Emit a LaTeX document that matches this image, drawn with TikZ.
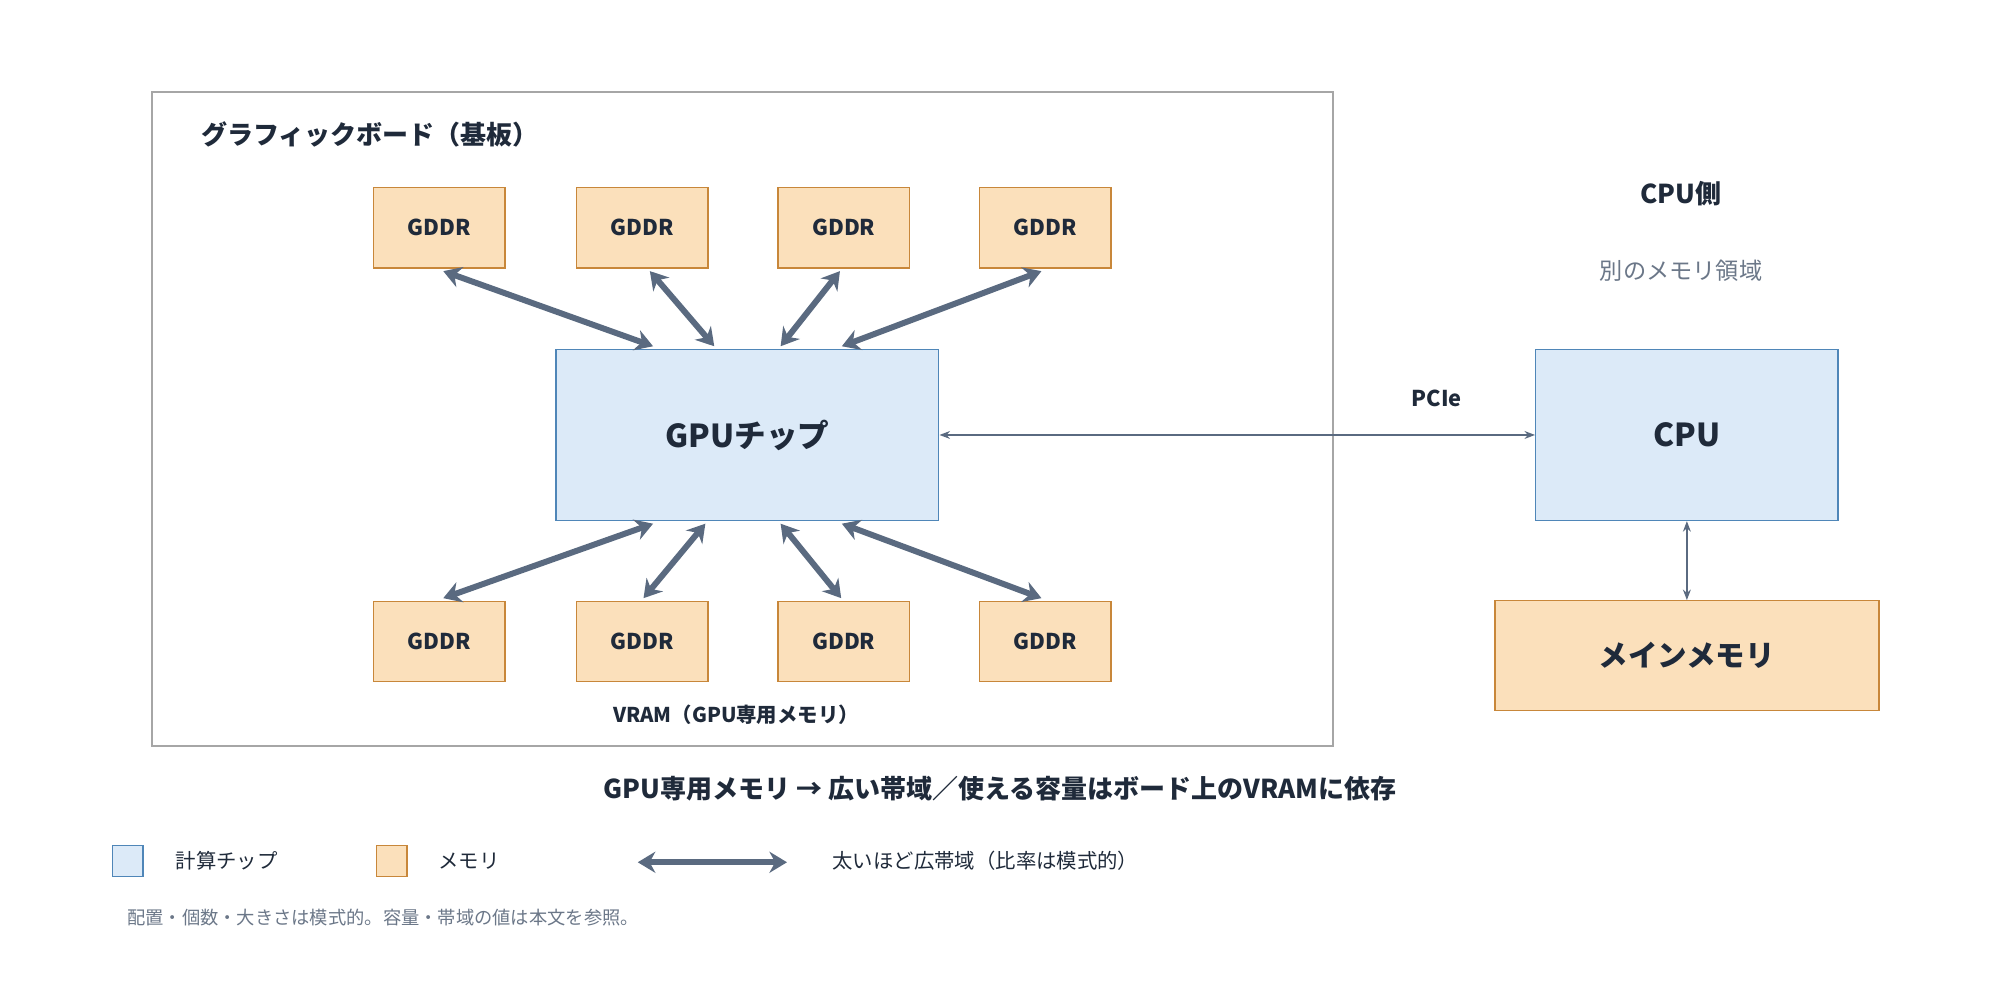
\documentclass[tikz,border=0pt]{standalone}
\usepackage{fontspec}
\setmainfont{Noto Sans CJK JP}
\usetikzlibrary{arrows.meta,calc}
\definecolor{chipfill}{HTML}{DCEAF8}
\definecolor{chipline}{HTML}{4F86B8}
\definecolor{memfill}{HTML}{FBE0BB}
\definecolor{memline}{HTML}{C8873A}
\definecolor{ink}{HTML}{1F2A3A}
\definecolor{muted}{HTML}{6B7788}
\definecolor{link}{HTML}{5A6A80}
\tikzset{
  chip/.style={draw=chipline, fill=chipfill, line width=0.4pt, inner sep=0pt},
  mem/.style={draw=memline, fill=memfill, line width=0.4pt, inner sep=0pt},
  bus/.style={link, line width=1.7pt, {Stealth[length=5pt,width=6pt]}-{Stealth[length=5pt,width=6pt]}},
  thin bus/.style={link, line width=0.4pt, {Stealth[length=3pt]}-{Stealth[length=3pt]}},
  lbl/.style={text=ink, font=\bfseries\fontsize{6.2}{7}\selectfont}
}
\begin{document}
\begin{tikzpicture}[x=0.012755cm, y=-0.012755cm]
\useasboundingbox (0,0) rectangle (1568,784);
\draw[draw=gray!70, line width=0.5pt] (119,72) rectangle (1045,585);
\node[anchor=west, lbl, font=\bfseries\fontsize{7.4}{8}\selectfont] (board) at (148,105) {グラフィックボード（基板）};
% GDDR chips
\foreach \i/\x in {1/293,2/452,3/610,4/768} {
  \node[mem, minimum width=103*0.012755cm, minimum height=63*0.012755cm, lbl] (t\i) at (\x+51.5,178.5) {GDDR};
  \node[mem, minimum width=103*0.012755cm, minimum height=63*0.012755cm, lbl] (b\i) at (\x+51.5,503) {GDDR};
}
\node[chip, minimum width=300*0.012755cm, minimum height=134*0.012755cm, text=ink, font=\bfseries\fontsize{9}{10}\selectfont] (gpu) at (586,341) {GPUチップ};
\node[chip, minimum width=237*0.012755cm, minimum height=134*0.012755cm, text=ink, font=\bfseries\fontsize{9}{10}\selectfont] (cpu) at (1322.5,341) {CPU};
\node[mem, minimum width=301*0.012755cm, minimum height=86*0.012755cm, text=ink, font=\bfseries\fontsize{8.4}{9}\selectfont] (ram) at (1322.5,514) {メインメモリ};
\node[lbl, font=\bfseries\fontsize{7.4}{8}\selectfont] (side) at (1318,152) {CPU側};
\node[text=muted, font=\fontsize{6.6}{7}\selectfont] (area) at (1318,212) {別のメモリ領域};
% links
\draw[bus] ($(t1.south)+(3,2)$) -- ($(gpu.north)+(-74,-2)$);
\draw[bus] ($(t2.south)+(6,2)$) -- ($(gpu.north)+(-26,-2)$);
\draw[bus] ($(t3.south)+(-3,2)$) -- ($(gpu.north)+(26,-2)$);
\draw[bus] ($(t4.south)+(-3,2)$) -- ($(gpu.north)+(74,-2)$);
\draw[bus] ($(gpu.south)+(-74,2)$) -- ($(b1.north)+(3,-2)$);
\draw[bus] ($(gpu.south)+(-33,2)$) -- ($(b2.north)+(1,-2)$);
\draw[bus] ($(gpu.south)+(26,2)$) -- ($(b3.north)+(-2,-2)$);
\draw[bus] ($(gpu.south)+(74,2)$) -- ($(b4.north)+(-3,-2)$);
\draw[thin bus] (gpu.east) -- (cpu.west) node[pos=0.835, above=12*0.012755cm, lbl] (pcie) {PCIe};
\draw[thin bus] (cpu.south) -- (ram.north);
\node[lbl, font=\bfseries\fontsize{5.8}{7}\selectfont] (vram) at (577,560) {VRAM（GPU専用メモリ）};
\node[lbl, font=\bfseries\fontsize{7.4}{8}\selectfont] (caption) at (784,618) {GPU専用メモリ → 広い帯域／使える容量はボード上のVRAMに依存};
% legend
\node[chip, minimum size=24*0.012755cm] (k1) at (100,675) {};
\node[anchor=west, text=ink, font=\fontsize{5.8}{7}\selectfont] (k1t) at (128,675) {計算チップ};
\node[mem, minimum size=24*0.012755cm] (k2) at (307,675) {};
\node[anchor=west, text=ink, font=\fontsize{5.8}{7}\selectfont] (k2t) at (334,675) {メモリ};
\coordinate (ka) at (500,676);
\coordinate (kb) at (617,676);
\draw[bus] (ka) -- (kb);
\node[anchor=west, text=ink, font=\fontsize{5.8}{7}\selectfont] (k3t) at (643,675) {太いほど広帯域（比率は模式的）};
\node[anchor=west, text=muted, font=\fontsize{5.2}{6}\selectfont] (note) at (90,719) {配置・個数・大きさは模式的。容量・帯域の値は本文を参照。};
\end{tikzpicture}
\end{document}
